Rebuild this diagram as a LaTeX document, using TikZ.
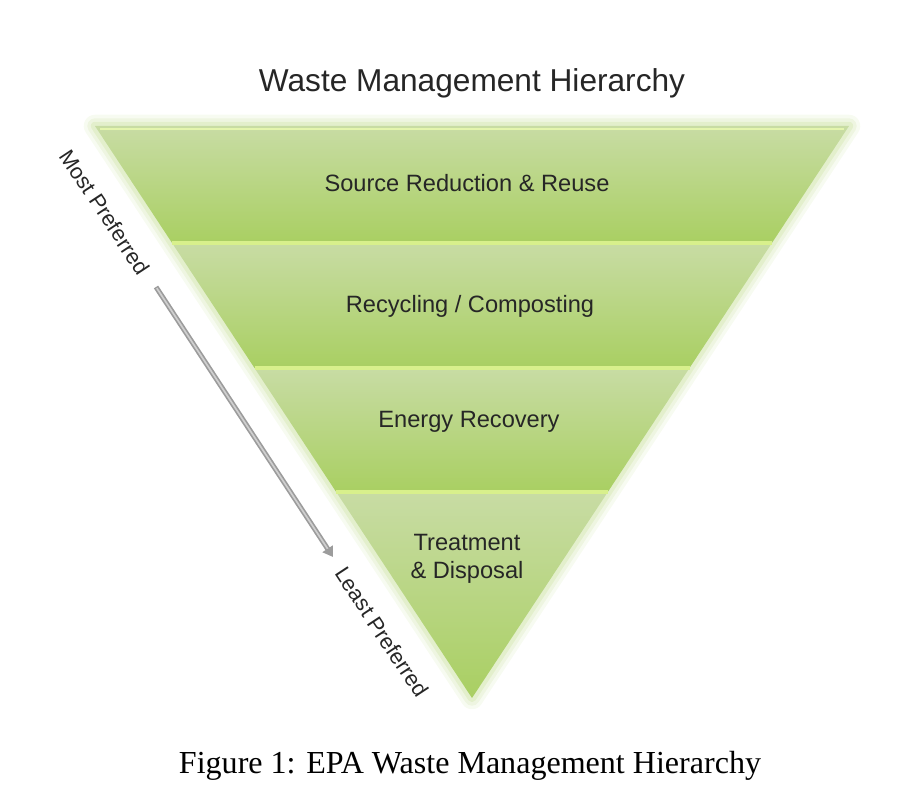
\documentclass[tikz,border=0pt]{standalone}
\usepackage{fontspec}
\setmainfont{Liberation Sans}
\newfontfamily\capfont{Liberation Serif}
\usetikzlibrary{arrows.meta}
\definecolor{ink}{HTML}{262626}
\definecolor{bandtop}{HTML}{C8DCA4}
\definecolor{bandbot}{HTML}{A9CF62}
\definecolor{seam}{HTML}{D8F08C}
\definecolor{glow}{HTML}{B5D57A}
\definecolor{rod}{HTML}{9C9C9C}
\definecolor{rodlight}{HTML}{CFCFCF}
\tikzset{
  bandtext/.style={text=ink,font=\fontsize{16.8}{19.5}\selectfont,align=center},
  sidetext/.style={text=ink,font=\fontsize{15.5}{18}\selectfont,rotate=-56.6},
}

\begin{document}
\begin{tikzpicture}[x=0.025cm,y=0.025cm,>=Stealth]
\useasboundingbox (0,0) rectangle (904,810);
% soft glow round the triangle
\foreach \w/\o in {16/0.10,11/0.14,6/0.20} {
  \draw[glow,line width=\w pt,opacity=\o,line join=round] (95,684) -- (849,684) -- (472,112) -- cycle;
}
% the four bands
\shade[top color=bandtop,bottom color=bandbot] (95,684) -- (849,684) -- (771.9,567) -- (172.1,567) -- cycle;
\shade[top color=bandtop,bottom color=bandbot] (172.1,567) -- (771.9,567) -- (689.5,442) -- (254.5,442) -- cycle;
\shade[top color=bandtop,bottom color=bandbot] (254.5,442) -- (689.5,442) -- (607.8,318) -- (336.2,318) -- cycle;
\shade[top color=bandtop,bottom color=bandbot] (336.2,318) -- (607.8,318) -- (472,112) -- cycle;
% bright seams between bands
\draw[seam!70!white,line width=1.2pt] (100,681) -- (844,681);
\foreach \y/\l/\r in {567/172.1/771.9,442/254.5/689.5,318/336.2/607.8} {
  \draw[seam,line width=2.2pt] (\l,\y) -- (\r,\y);
}
% labels
\node[font=\fontsize{22.5}{26}\selectfont,text=ink] (title) at (472,727) {Waste Management Hierarchy};
\node[bandtext] (src) at (467,627) {Source Reduction \& Reuse};
\node[bandtext] (rec) at (470,504) {Recycling / Composting};
\node[bandtext] (nrg) at (469,388) {Energy Recovery};
\node[bandtext] (trt) at (467,251) {Treatment\\\& Disposal};
\node[sidetext] (most) at (105,598) {Most Preferred};
\node[sidetext] (least) at (382,178) {Least Preferred};
% grey arrow from most to least
\coordinate (arrA) at (156,523);
\coordinate (arrB) at (333,253);
\draw[rod,line width=3.6pt,-{Triangle[length=7pt,width=8.5pt]}] (arrA) -- (arrB);
\draw[rodlight,line width=1.2pt,shorten >=7pt,shorten <=1pt] (arrA) -- (arrB);
% caption
\node[font=\capfont\fontsize{22.8}{26}\selectfont,text=black] (caption) at (470,44) {Figure 1: EPA Waste Management Hierarchy};
\end{tikzpicture}
\end{document}
